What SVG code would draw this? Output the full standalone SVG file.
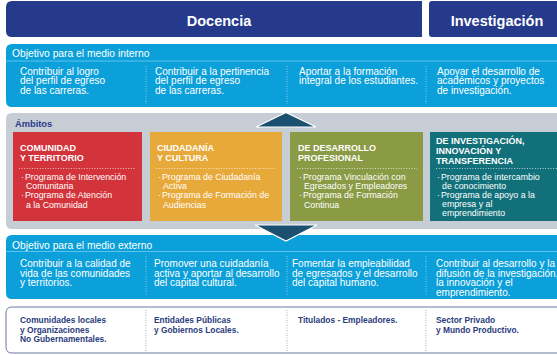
<svg xmlns="http://www.w3.org/2000/svg" width="557" height="355" viewBox="0 0 557 355">
<style>
text{font-family:"Liberation Sans",Arial,sans-serif}
.hd{font-size:14.5px;font-weight:bold;fill:#fff}
.sec{font-size:10.3px;fill:#fff}
.body{font-size:10px;fill:#fff}
.ct{font-size:9px;font-weight:bold;fill:#fff}
.bl{font-size:8.8px;fill:#fff}
.amb{font-size:9.3px;font-weight:bold;fill:#2a3a8a}
.bt{font-size:8.4px;font-weight:bold;fill:#2b3c7c}
.vsep{stroke:#86d0f0;stroke-width:1;stroke-dasharray:1 1.5;fill:none}
.gsep{stroke:#a9aebb;stroke-width:1;stroke-dasharray:1 1.5;fill:none}
.csep{stroke:#fff;stroke-width:0.8;stroke-dasharray:1 1.6;fill:none;opacity:0.85}
.arrow{fill:#1c5071;stroke:#fff;stroke-width:1.2}
</style>
<rect width="557" height="355" fill="#fff"/>

<g id="docencia">
<path d="M12 1 H422 V37 H12 Q6 37 6 31 V7 Q6 1 12 1 Z" fill="#263a8c"/>
<text class="hd" x="219" y="25.5" text-anchor="middle">Docencia</text>
</g>
<g id="investigacion">
<path d="M432 1 H557 V37 H432 Q429 37 429 34 V4 Q429 1 432 1 Z" fill="#263a8c"/>
<text class="hd" x="497" y="25.5" text-anchor="middle">Investigación</text>
</g>

<g id="objetivo-interno">
<path d="M12 44 H560 V107 H12 Q6 107 6 101 V50 Q6 44 12 44 Z" fill="#0ba0da"/>
<line x1="6" y1="61" x2="557" y2="61" stroke="#5cc3ec" stroke-width="1"/>
<text class="sec" x="12" y="56.5">Objetivo para el medio interno</text>
<line class="vsep" x1="146" y1="66" x2="146" y2="104"/>
<line class="vsep" x1="287" y1="66" x2="287" y2="104"/>
<line class="vsep" x1="426" y1="66" x2="426" y2="104"/>
<text class="body" x="20" y="74.5">Contribuir al logro</text>
<text class="body" x="20" y="84.3">del perfil de egreso</text>
<text class="body" x="20" y="94.1">de las carreras.</text>
<text class="body" x="155" y="74.5">Contribuir a la pertinencia</text>
<text class="body" x="155" y="84.3">del perfil de egreso</text>
<text class="body" x="155" y="94.1">de las carreras.</text>
<text class="body" x="299" y="74.5">Aportar a la formación</text>
<text class="body" x="299" y="84.3">integral de los estudiantes.</text>
<text class="body" x="437" y="74.5">Apoyar el desarrollo de</text>
<text class="body" x="437" y="84.3">académicos y proyectos</text>
<text class="body" x="437" y="94.1">de investigación.</text>
</g>

<g id="ambitos">
<path d="M12 113 H560 V229 H12 Q6 229 6 223 V119 Q6 113 12 113 Z" fill="#c6cdd5"/>
<text class="amb" x="15" y="126.5">Ámbitos</text>
</g>

<g id="comunidad-territorio">
<rect x="13" y="132" width="129" height="89" fill="#d3333b"/>
<text class="ct" x="20" y="151">COMUNIDAD</text>
<text class="ct" x="20" y="161">Y TERRITORIO</text>
<line class="csep" x1="19" y1="168.5" x2="136" y2="168.5"/>
<text class="bl" x="21" y="180">·</text><text class="bl" x="25" y="180">Programa de Intervención</text>
<text class="bl" x="26" y="189.2">Comunitaria</text>
<text class="bl" x="21" y="198.4">·</text><text class="bl" x="25" y="198.4">Programa de Atención</text>
<text class="bl" x="26" y="207.6">a la Comunidad</text>
</g>

<g id="ciudadania-cultura">
<rect x="150" y="132" width="132" height="89" fill="#e8a93b"/>
<text class="ct" x="157" y="151">CIUDADANÍA</text>
<text class="ct" x="157" y="161">Y CULTURA</text>
<line class="csep" x1="156" y1="168.5" x2="276" y2="168.5"/>
<text class="bl" x="158" y="180">·</text><text class="bl" x="162" y="180">Programa de Ciudadanía</text>
<text class="bl" x="163" y="189.2">Activa</text>
<text class="bl" x="158" y="198.4">·</text><text class="bl" x="162" y="198.4">Programa de Formación de</text>
<text class="bl" x="163" y="207.6">Audiencias</text>
</g>

<g id="desarrollo-profesional">
<rect x="290" y="132" width="133" height="89" fill="#8b9b45"/>
<text class="ct" x="298" y="151">DE DESARROLLO</text>
<text class="ct" x="298" y="161">PROFESIONAL</text>
<line class="csep" x1="297" y1="168.5" x2="417" y2="168.5"/>
<text class="bl" x="299" y="180">·</text><text class="bl" x="303" y="180">Programa Vinculación con</text>
<text class="bl" x="304" y="189.2">Egresados y Empleadores</text>
<text class="bl" x="299" y="198.4">·</text><text class="bl" x="303" y="198.4">Programa de Formación</text>
<text class="bl" x="304" y="207.6">Continua</text>
</g>

<g id="investigacion-innovacion">
<rect x="430" y="132" width="130" height="89" fill="#11707a"/>
<text class="ct" x="436" y="144.3">DE INVESTIGACIÓN,</text>
<text class="ct" x="436" y="154.3">INNOVACIÓN Y</text>
<text class="ct" x="436" y="164.3">TRANSFERENCIA</text>
<line class="csep" x1="436" y1="168.5" x2="557" y2="168.5"/>
<text class="bl" x="437" y="180">·</text><text class="bl" x="441" y="180">Programa de intercambio</text>
<text class="bl" x="442" y="189">de conocimiento</text>
<text class="bl" x="437" y="198">·</text><text class="bl" x="441" y="198">Programa de apoyo a la</text>
<text class="bl" x="442" y="207">empresa y al</text>
<text class="bl" x="442" y="216">emprendimiento</text>
</g>

<g id="objetivo-externo">
<path d="M12 235 H560 V299 H12 Q6 299 6 293 V241 Q6 235 12 235 Z" fill="#0ba0da"/>
<line x1="6" y1="251.5" x2="557" y2="251.5" stroke="#5cc3ec" stroke-width="1"/>
<text class="sec" x="12" y="248.5">Objetivo para el medio externo</text>
<line class="vsep" x1="146" y1="256" x2="146" y2="296"/>
<line class="vsep" x1="287" y1="256" x2="287" y2="296"/>
<line class="vsep" x1="426" y1="256" x2="426" y2="296"/>
<text class="body" x="20" y="267">Contribuir a la calidad de</text>
<text class="body" x="20" y="276.6">vida de las comunidades</text>
<text class="body" x="20" y="286.2">y territorios.</text>
<text class="body" x="154" y="267">Promover una cuidadanía</text>
<text class="body" x="154" y="276.6">activa y aportar al desarrollo</text>
<text class="body" x="154" y="286.2">del capital cultural.</text>
<text class="body" x="292" y="267">Fomentar la empleabilidad</text>
<text class="body" x="292" y="276.6">de egresados y el desarrollo</text>
<text class="body" x="292" y="286.2">del capital humano.</text>
<text class="body" x="436" y="267">Contribuir al desarrollo y la</text>
<text class="body" x="436" y="276.6">difusión de la investigación,</text>
<text class="body" x="436" y="286.2">la innovación y el</text>
<text class="body" x="436" y="295.8">emprendimiento.</text>
</g>

<g id="publicos">
<path d="M12 307 H562 V353 H12 Q6 353 6 347 V313 Q6 307 12 307 Z" fill="#fff" stroke="#6b78a2" stroke-width="1"/>
<line class="gsep" x1="146" y1="310" x2="146" y2="352"/>
<line class="gsep" x1="287" y1="310" x2="287" y2="352"/>
<line class="gsep" x1="426" y1="310" x2="426" y2="352"/>
<text class="bt" x="20" y="323.3">Comunidades locales</text>
<text class="bt" x="20" y="332.5">y Organizaciones</text>
<text class="bt" x="20" y="341.7">No Gubernamentales.</text>
<text class="bt" x="154" y="323.3">Entidades Públicas</text>
<text class="bt" x="154" y="332.5">y Gobiernos Locales.</text>
<text class="bt" x="298" y="323.3">Titulados - Empleadores.</text>
<text class="bt" x="436" y="323.3">Sector Privado</text>
<text class="bt" x="436" y="332.5">y Mundo Productivo.</text>
</g>

<g id="connectors">
<polygon class="arrow" points="256,127 316,127 286,112.5"/>
<polygon class="arrow" points="255,225 317,225 286,241"/>
</g>
</svg>
